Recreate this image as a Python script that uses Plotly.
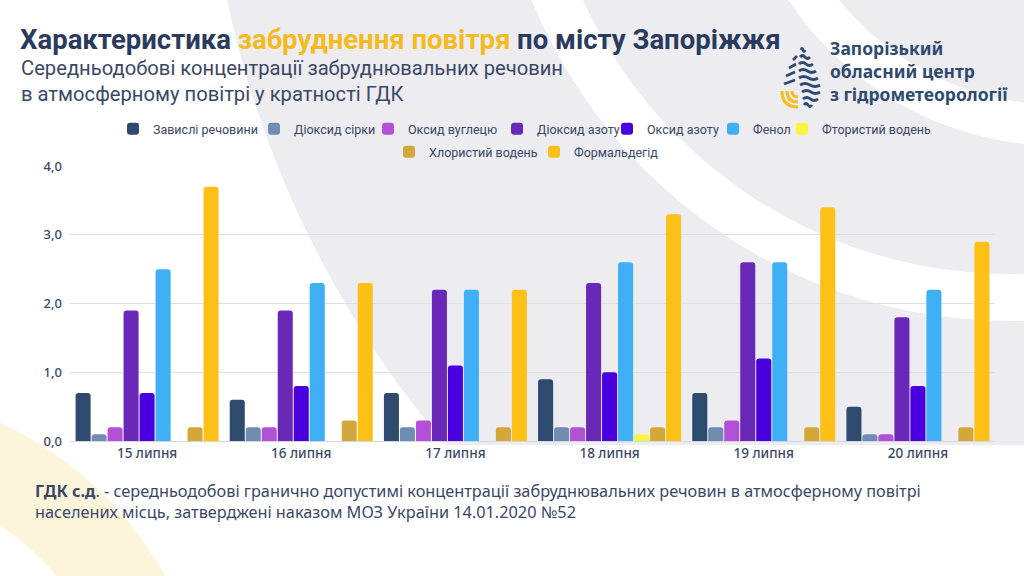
import plotly.graph_objects as go

# ---------------- data ----------------
dates = ["15 липня", "16 липня", "17 липня", "18 липня", "19 липня", "20 липня"]

zavysli = [0.7, 0.6, 0.7, 0.9, 0.7, 0.5]
dioksyd_sirky = [0.1, 0.2, 0.2, 0.2, 0.2, 0.1]
oksyd_vuhletsiu = [0.2, 0.2, 0.3, 0.2, 0.3, 0.1]
dioksyd_azotu = [1.9, 1.9, 2.2, 2.3, 2.6, 1.8]
oksyd_azotu = [0.7, 0.8, 1.1, 1.0, 1.2, 0.8]
fenol = [2.5, 2.3, 2.2, 2.6, 2.6, 2.2]
ftorystyi_voden = [None, None, None, 0.1, None, None]
khlorystyi_voden = [0.2, 0.3, 0.2, 0.2, 0.2, 0.2]
formaldehid = [3.7, 2.3, 2.2, 3.3, 3.4, 2.9]

series_names = ["Завислі речовини", "Діоксид сірки", "Оксид вуглецю", "Діоксид азоту",
                "Оксид азоту", "Фенол", "Фтористий водень", "Хлористий водень", "Формальдегід"]
series_values = [zavysli, dioksyd_sirky, oksyd_vuhletsiu, dioksyd_azotu, oksyd_azotu,
                 fenol, ftorystyi_voden, khlorystyi_voden, formaldehid]
series_colors = ["#2E4A6E", "#6F8DB3", "#B250D6", "#6A28B8", "#4A00DE",
                 "#3FB0F6", "#F7F53C", "#D3A838", "#FDC016"]

y_ticks = [0, 1, 2, 3, 4]

# legend swatch positions (left edge of the swatch, row centre), in pixels
legend_x = [131, 272, 386, 515, 625, 731, 800, 407, 552]
legend_y = [129, 129, 129, 129, 129, 129, 129, 152, 152]

# ---------------- layout geometry (pixels) ----------------
W, H = 1024, 576
ML, MR, MT, MB = 70, 29, 166, 135
PW = W - ML - MR
PH = H - MT - MB
PBOT = H - MB


def px(x):
    return (x - ML) / PW


def py(y):
    return (PBOT - y) / PH


def circle(cx, cy, r, color):
    return dict(type="circle", xref="paper", yref="paper", layer="below",
                x0=px(cx - r), x1=px(cx + r), y0=py(cy + r), y1=py(cy - r),
                fillcolor=color, line=dict(width=0))


GRAY = "#ECECF1"
WHITE = "#FFFFFF"
CREAM = "#FDF4DC"
NAVY = "#2B3B5E"
TEXT = "#3A4866"

fig = go.Figure()
for i, (name, vals, col) in enumerate(zip(series_names, series_values, series_colors)):
    fig.add_trace(go.Bar(
        x=dates, y=vals, name=name, marker=dict(color=col, line=dict(width=0)),
        legend="legend" if i == 0 else f"legend{i + 1}",
        hoverinfo="skip"))

shapes = [
    circle(1215, -210, 1010, GRAY),
    dict(type="rect", xref="paper", yref="paper", layer="below",
         x0=px(-20), x1=px(W + 20), y0=py(H + 20), y1=py(445),
         fillcolor=WHITE, line=dict(width=0)),
    circle(-150, 750, 360, CREAM),
    circle(-150, 750, 270, WHITE),
    circle(1010, -196, 517, WHITE),
    circle(1010, -196, 470, GRAY),
    circle(1060, -180, 326, WHITE),
    circle(1060, -180, 285, GRAY),
]


# ---- logo (drop with waves) ----
def pth(points_px):
    s = ""
    for cmd, pts in points_px:
        s += cmd + " ".join(f"{px(a):.5f},{py(b):.5f}" for a, b in pts) + " "
    return s.strip()


wave_rows = [(50, 801, 805), (57, 800, 810), (64, 799, 813), (71, 799, 816),
             (78, 799, 818), (85, 800, 820), (92, 802, 820), (99, 803, 818), (105, 804, 812)]
for yy, xa, xb in wave_rows:
    xm = (xa + xb) / 2
    shapes.append(dict(type="path", xref="paper", yref="paper", layer="above",
                       path=pth([("M", [(xa, yy)]), ("Q", [((xa + xm) / 2, yy - 3), (xm, yy)]),
                                 ("Q", [((xm + xb) / 2, yy + 3), (xb, yy)])]),
                       line=dict(color="#2E4A6E", width=2.8)))
for yy, xa, xb in [(56, 797, 793), (64, 796, 789), (72, 795, 786), (80, 795, 784)]:
    shapes.append(dict(type="path", xref="paper", yref="paper", layer="above",
                       path=pth([("M", [(xa, yy)]), ("L", [(xb, yy + 4)])]),
                       line=dict(color="#2E4A6E", width=2.6)))
for r in [6, 11, 16]:
    cx, cy = 798, 91
    shapes.append(dict(type="path", xref="paper", yref="paper", layer="above",
                       path=pth([("M", [(cx - r, cy)]),
                                 ("Q", [(cx - r, cy + r), (cx, cy + r)])]),
                       line=dict(color="#F5BE1E", width=3)))

annotations = [
    dict(text=("<b>Характеристика <span style='color:#F5BA1E'>забруднення повітря</span>"
               " по місту Запоріжжя</b>"),
         xref="paper", yref="paper", x=px(18), y=py(40), xanchor="left", yanchor="middle",
         showarrow=False, font=dict(family="Roboto", size=27.5, color=NAVY)),
    dict(text="Середньодобові концентрації забруднювальних речовин<br>в атмосферному повітрі у кратності ГДК",
         xref="paper", yref="paper", x=px(19), y=py(80.5), xanchor="left", yanchor="middle",
         align="left", showarrow=False, font=dict(family="Roboto", size=20.2, color=TEXT)),
    dict(text=("<b>ГДК с.д</b>. - середньодобові гранично допустимі концентрації забруднювальних"
               " речовин в атмосферному повітрі<br>населених місць, затверджені наказом МОЗ"
               " України 14.01.2020 №52"),
         xref="paper", yref="paper", x=px(33), y=py(501), xanchor="left", yanchor="middle",
         align="left", showarrow=False, font=dict(family="Noto Sans", size=16.3, color=TEXT)),
    dict(text="Запорізький<br>обласний центр<br>з гідрометеорології",
         xref="paper", yref="paper", x=px(828), y=py(71), xanchor="left", yanchor="middle",
         align="left", showarrow=False,
         font=dict(family="Noto Sans", size=17.5, color="#2E4A6E", weight=700)),
]

legends = {}
for i, (lx, ly) in enumerate(zip(legend_x, legend_y)):
    key = "legend" if i == 0 else f"legend{i + 1}"
    legends[key] = dict(orientation="h", x=px(lx - 18), xanchor="left", y=py(ly), yanchor="middle",
                        bgcolor="rgba(0,0,0,0)", borderwidth=0,
                        font=dict(family="Roboto", size=12.5, color=TEXT),
                        itemclick=False, itemdoubleclick=False)

fig.update_layout(
    width=W, height=H,
    margin=dict(l=ML, r=MR, t=MT, b=MB, autoexpand=False),
    paper_bgcolor=WHITE, plot_bgcolor="rgba(0,0,0,0)",
    separators=", ",
    barmode="group", bargap=0.066, bargroupgap=0.06, barcornerradius=3,
    font=dict(family="Noto Sans", color=TEXT),
    showlegend=True,
    xaxis=dict(showgrid=False, showline=True, linecolor="#D6D6DE", linewidth=1,
               ticks="", tickfont=dict(family="Noto Sans", size=13.5, color=TEXT, weight=500),
               fixedrange=True),
    yaxis=dict(range=[0, 4.0], tickvals=y_ticks, tickformat=".1f", showgrid=True,
               gridcolor="#DFDFE6", gridwidth=1, zeroline=False, showline=False, ticks="",
               ticklabelstandoff=7,
               tickfont=dict(family="Noto Sans", size=13, color=TEXT, weight=500), fixedrange=True),
    shapes=shapes,
    annotations=annotations,
    **legends,
)

fig.write_html("out.html", config={"displayModeBar": False})
